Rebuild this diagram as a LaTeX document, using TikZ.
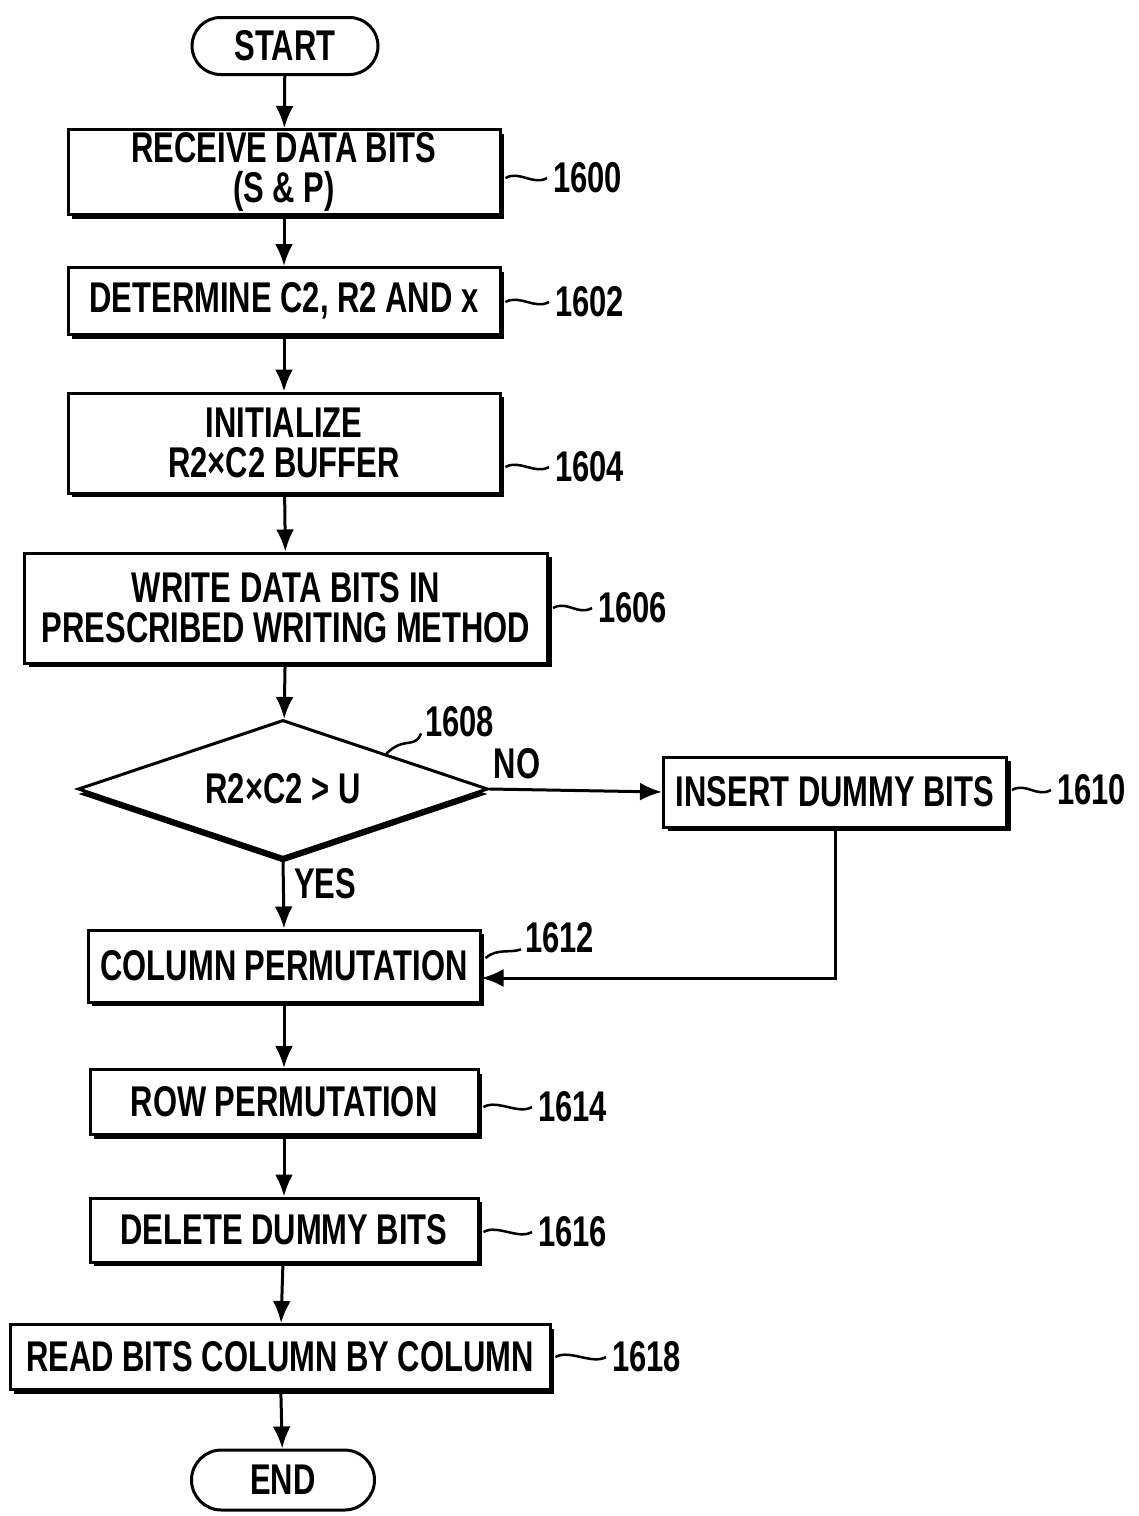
\documentclass[tikz,border=0pt]{standalone}
\usepackage{fontspec}
\newfontfamily\chartfont{Liberation Sans}[FakeStretch=0.72]
\usetikzlibrary{shapes.geometric,shapes.misc,shadows,arrows.meta}

\tikzset{
  stepbox/.style={draw, line width=3pt, fill=white, align=center, inner sep=0pt,
    drop shadow={shadow xshift=4pt, shadow yshift=-4pt, opacity=1, fill=black}},
  termbox/.style={draw, line width=3pt, rounded rectangle, inner sep=0pt},
  decide/.style={draw, line width=3pt, diamond, aspect=3, fill=white, inner sep=0pt,
    drop shadow={shadow xshift=0pt, shadow yshift=-5pt, opacity=1, fill=black}},
  flow/.style={line width=3pt, -{Latex[length=22pt,width=18pt]}},
  lead/.style={line width=2.5pt},
  num/.style={inner sep=0pt, anchor=west}
}

\begin{document}
\begin{tikzpicture}[x=1pt, y=1pt,
    every node/.style={font=\chartfont\bfseries\fontsize{43}{40}\selectfont}]
  \useasboundingbox (0,0) rectangle (1139,-1516);

  % terminals and steps
  \node[termbox, minimum width=186, minimum height=57] (start) at (285,-46) {START};
  \node[stepbox, minimum width=432, minimum height=85] (b1600) at (284,-172) {RECEIVE DATA BITS\\(S \& P)};
  \node[stepbox, minimum width=432, minimum height=67] (b1602) at (284,-301) {DETERMINE C2, R2 AND x};
  \node[stepbox, minimum width=432, minimum height=100] (b1604) at (284,-443) {INITIALIZE\\R2×C2 BUFFER};
  \node[stepbox, minimum width=523, minimum height=110] (b1606) at (286,-608) {WRITE DATA BITS IN\\PRESCRIBED WRITING METHOD};
  \node[decide, minimum width=410, minimum height=138] (d1608) at (283,-789) {R2×C2 > U};
  \node[stepbox, minimum width=343, minimum height=70] (b1610) at (835,-792) {INSERT DUMMY BITS};
  \node[stepbox, minimum width=392, minimum height=72] (b1612) at (284,-966) {COLUMN PERMUTATION};
  \node[stepbox, minimum width=388, minimum height=65] (b1614) at (284,-1102) {ROW PERMUTATION};
  \node[stepbox, minimum width=388, minimum height=64] (b1616) at (284,-1230) {DELETE DUMMY BITS};
  \node[stepbox, minimum width=540, minimum height=65] (b1618) at (280,-1357) {READ BITS COLUMN BY COLUMN};
  \node[termbox, minimum width=183, minimum height=60] (end) at (283,-1480) {END};

  % reference numbers
  \node[num] (l1600) at (553,-178) {1600};
  \node[num] (l1602) at (555,-302) {1602};
  \node[num] (l1604) at (555,-467) {1604};
  \node[num] (l1606) at (598,-608) {1606};
  \node[num] (l1608) at (425,-722) {1608};
  \node[num] (l1610) at (1057,-790) {1610};
  \node[num] (l1612) at (525,-938) {1612};
  \node[num] (l1614) at (538,-1107) {1614};
  \node[num] (l1616) at (538,-1232) {1616};
  \node[num] (l1618) at (612,-1357) {1618};

  \foreach \b in {1600,1602,1604,1606,1610,1614,1616,1618}
    \draw[lead] ([xshift=4pt]b\b.east |- l\b.west) .. controls +(14,8) and +(-14,-8) .. ([xshift=-6pt]l\b.west);
  \draw[lead] (d1608.north east) .. controls +(18,18) and +(-6,-16) .. ([xshift=-4pt,yshift=4pt]l1608.south west);
  \draw[lead] ([xshift=4pt,yshift=8pt]b1612.east) .. controls +(12,10) and +(-12,-4) .. ([xshift=-4pt,yshift=4pt]l1612.south west);

  % connectors
  \foreach \a/\b in {start/b1600, b1600/b1602, b1602/b1604, b1604/b1606, b1606/d1608,
                     b1612/b1614, b1614/b1616, b1616/b1618, b1618/end}
    \draw[flow] (\a) -- (\b);
  \draw[flow] (d1608.east) -- (b1610.west) node[pos=0.16, above=6pt] {NO};
  \draw[flow] (d1608.south) -- (b1612.north) node[pos=0.35, right=6pt] {YES};
  \draw[flow] (b1610.south) |- ([yshift=-12pt]b1612.east);
\end{tikzpicture}
\end{document}
